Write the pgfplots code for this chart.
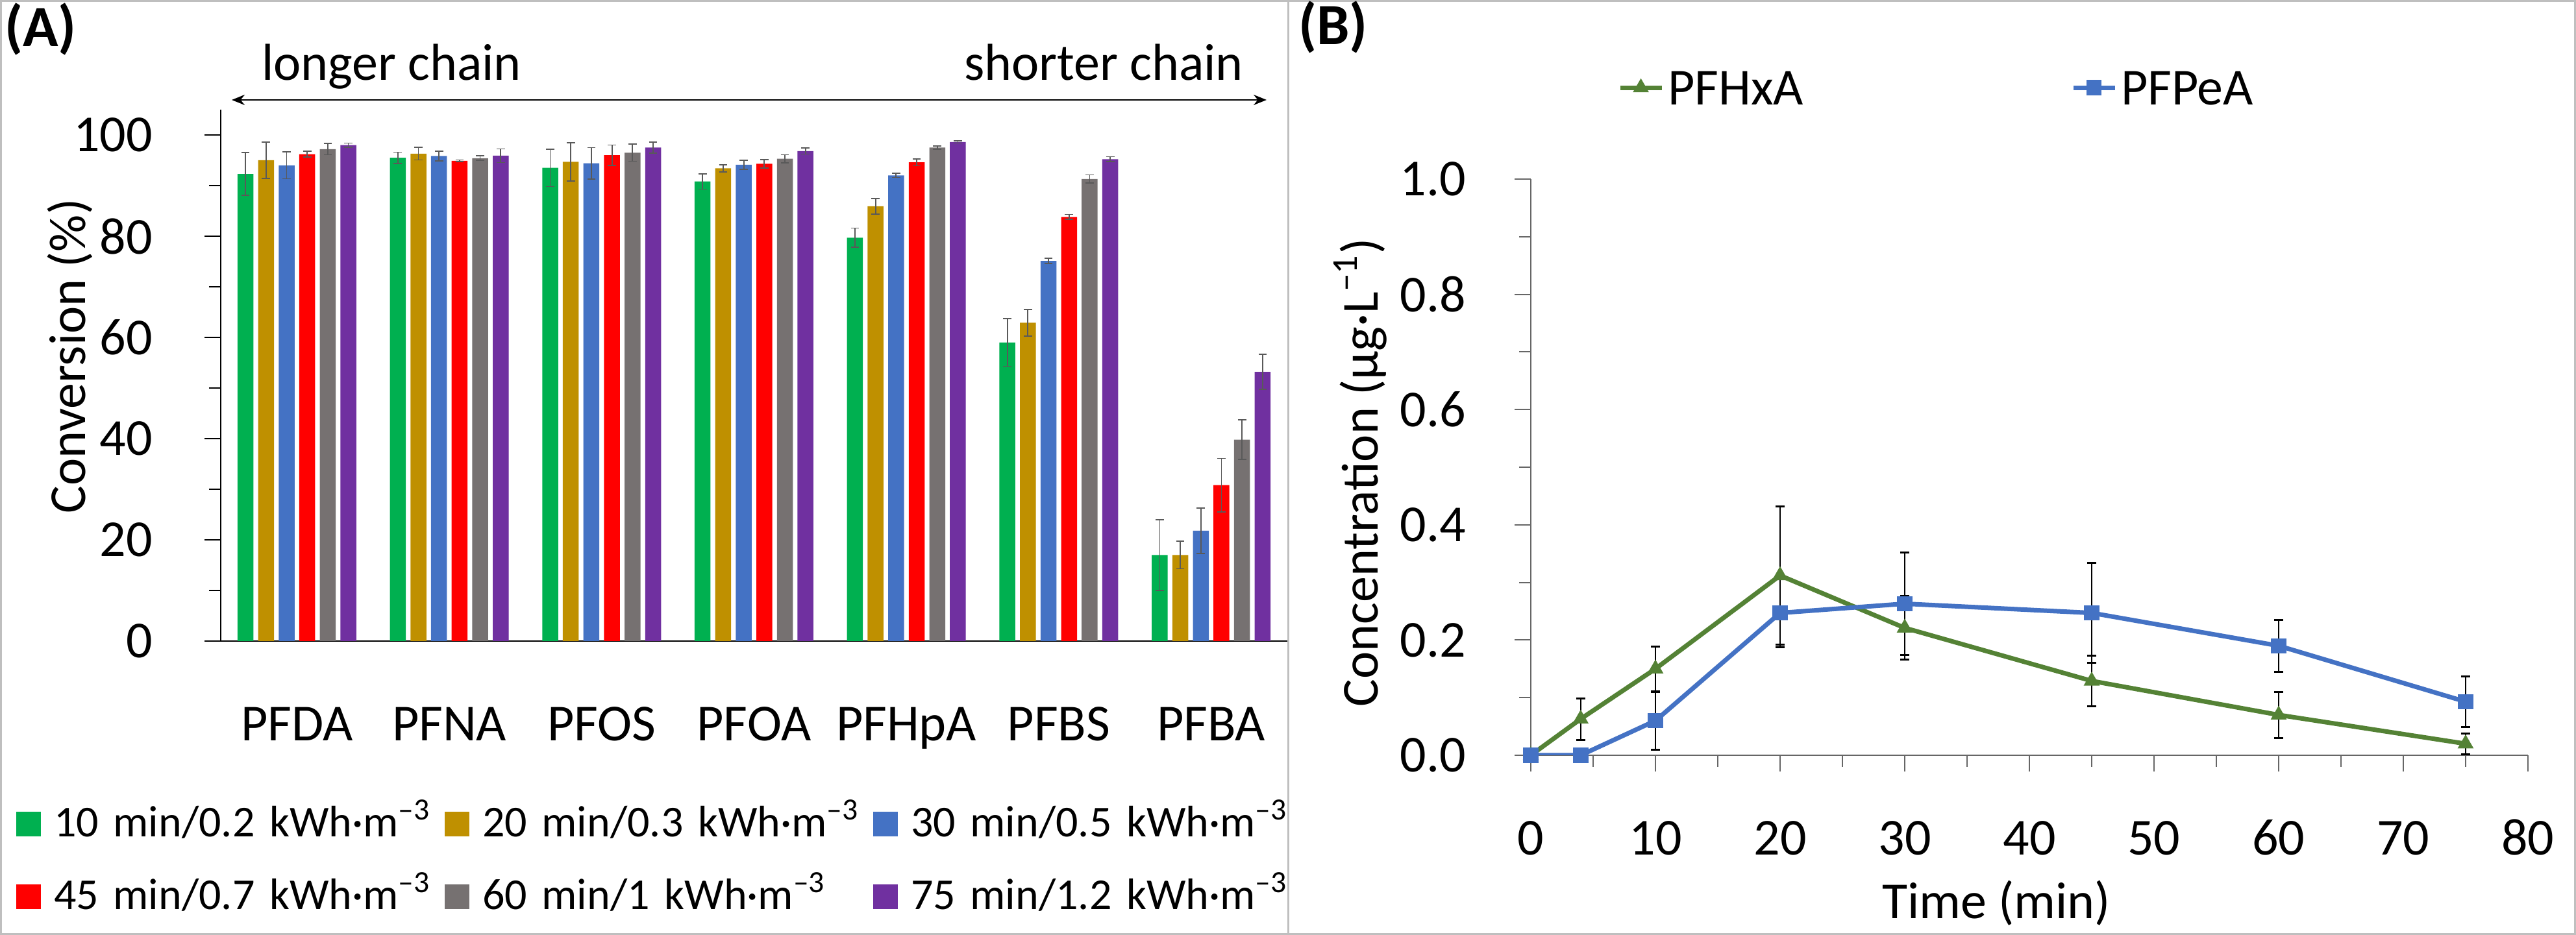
\documentclass[border=0pt]{standalone}
\usepackage{fontspec}
\setmainfont{Carlito}
\usepackage{pgfplots}
\pgfplotsset{compat=1.18}
\usepackage{pgfplotstable}
\usetikzlibrary{arrows.meta}
\definecolor{cGreen}{HTML}{00B050}
\definecolor{cGold}{HTML}{BF9000}
\definecolor{cBlue}{HTML}{4472C4}
\definecolor{cRed}{HTML}{FF0000}
\definecolor{cGray}{HTML}{767171}
\definecolor{cPurple}{HTML}{7030A0}
\definecolor{lGreen}{HTML}{548235}
\definecolor{errGray}{HTML}{595959}
\definecolor{frameGray}{HTML}{BFBFBF}

\pgfplotstableread{
x s1 e1 s2 e2 s3 e3 s4 e4 s5 e5 s6 e6
0 92.3 4.25 95.0 3.55 94.0 2.65 96.2 0.6 97.2 1.1 98.0 0.4
1 95.5 1.1 96.3 1.25 95.85 0.95 94.9 0.15 95.4 0.45 95.9 1.35
2 93.5 3.7 94.7 3.8 94.4 3.1 96.0 2.0 96.5 1.7 97.5 1.1
3 90.8 1.5 93.4 0.7 94.1 0.9 94.3 0.8 95.3 0.8 96.8 0.6
4 79.7 1.9 85.9 1.5 92.0 0.4 94.6 0.7 97.5 0.3 98.6 0.2
5 59.0 4.7 62.9 2.6 75.1 0.5 83.8 0.5 91.3 0.8 95.2 0.5
6 17.0 7.0 17.0 2.7 21.8 4.5 30.8 5.3 39.8 3.9 53.2 3.5
}\dataA

\pgfplotstableread{
x y e
0 0 0
4 0.063 0.036
10 0.150 0.039
20 0.312 0.120
30 0.221 0.055
45 0.129 0.044
60 0.070 0.040
75 0.020 0.018
}\PFHxA

\pgfplotstableread{
x y e
0 0 0
4 0 0
10 0.060 0.050
20 0.247 0.059
30 0.263 0.089
45 0.247 0.087
60 0.190 0.045
75 0.093 0.044
}\PFPeA

\begin{document}
\begin{tikzpicture}
\useasboundingbox (0,0) rectangle (793.6pt,288.2pt);
\draw[frameGray, line width=0.6pt] (0.3pt,0.3pt) rectangle (793.3pt,287.9pt);
\draw[frameGray, line width=0.6pt] (396.8pt,0pt) -- (396.8pt,288.2pt);

\node[anchor=base west, inner sep=0pt, font=\bfseries\fontsize{18}{22}\selectfont] at (1.2pt,273.8pt) {(A)};
\node[anchor=base west, inner sep=0pt, font=\bfseries\fontsize{18}{22}\selectfont] at (399.8pt,274.4pt) {(B)};
\draw[line width=0.4pt, {Stealth[length=4pt,width=3.2pt]}-{Stealth[length=4pt,width=3.2pt]}] (71.4pt,257.4pt) -- (390.2pt,257.4pt);
\node[anchor=base west, inner sep=0pt, font=\fontsize{16}{19}\selectfont] at (80.4pt,263.4pt) {longer chain};
\node[anchor=base east, inner sep=0pt, font=\fontsize{16}{19}\selectfont] at (383.2pt,263.4pt) {shorter chain};

\begin{axis}[
  at={(68pt,90.6pt)}, anchor=south west, scale only axis,
  width=328.6pt, height=163.8pt,
  xmin=-0.5, xmax=6.5, ymin=0, ymax=105,
  axis x line*=bottom, axis y line*=left,
  axis line style={-, line width=0.5pt, black},
  ybar=1.44pt, bar width=4.9pt,
  xtick={0,1,2,3,4,5,6},
  xticklabels={PFDA,PFNA,PFOS,PFOA,PFHpA,PFBS,PFBA},
  x tick style={draw=none},
  xticklabel style={anchor=base, inner sep=0pt, yshift=-25.8pt},
  ytick={0,20,40,60,80,100}, minor ytick={10,30,50,70,90},
  tick align=outside,
  major tick length=5pt, minor tick length=3.6pt,
  y tick style={black, line width=0.5pt},
  yticklabel style={anchor=east, inner sep=0pt, xshift=-15.8pt},
  /pgf/number format/assume math mode=true,
  every tick label/.append style={font=\fontsize{16}{19}\selectfont},
  ylabel={Conversion (\%)},
  every axis label/.append style={font=\fontsize{16}{19}\selectfont},
  ylabel style={at={(axis description cs:-0.1272,0.536)}, anchor=base},
  legend columns=3,
  legend style={at={(axis description cs:-0.1917,-0.3077)}, anchor=north west,
    draw=none, fill=none, inner sep=0pt, outer sep=0pt,
    font=\fontsize{13.6}{16}\selectfont,
    nodes={inner sep=0pt, text height=10pt, text depth=3.2pt},
    row sep=9.2pt, column sep=0pt,
    /tikz/every even column/.append style={text width=120.4pt}},
  legend image code/.code={\fill[#1] (0pt,-3.3pt) rectangle (7.6pt,4.3pt); \path (11.6pt,0pt);},
  error bars/error bar style={errGray, line width=0.35pt},
  error bars/error mark options={rotate=90, errGray, mark size=1.27pt, line width=0.35pt},
]
\addplot[fill=cGreen, draw=none, error bars/.cd, y dir=both, y explicit] table[x=x,y=s1,y error=e1]{\dataA};
\addlegendentry{10 min/0.2 kWh·m\textsuperscript{\textendash3}}
\addplot[fill=cGold, draw=none, error bars/.cd, y dir=both, y explicit] table[x=x,y=s2,y error=e2]{\dataA};
\addlegendentry{20 min/0.3 kWh·m\textsuperscript{\textendash3}}
\addplot[fill=cBlue, draw=none, error bars/.cd, y dir=both, y explicit] table[x=x,y=s3,y error=e3]{\dataA};
\addlegendentry{30 min/0.5 kWh·m\textsuperscript{\textendash3}}
\addplot[fill=cRed, draw=none, error bars/.cd, y dir=both, y explicit] table[x=x,y=s4,y error=e4]{\dataA};
\addlegendentry{45 min/0.7 kWh·m\textsuperscript{\textendash3}}
\addplot[fill=cGray, draw=none, error bars/.cd, y dir=both, y explicit] table[x=x,y=s5,y error=e5]{\dataA};
\addlegendentry{60 min/1 kWh·m\textsuperscript{\textendash3}}
\addplot[fill=cPurple, draw=none, error bars/.cd, y dir=both, y explicit] table[x=x,y=s6,y error=e6]{\dataA};
\addlegendentry{75 min/1.2 kWh·m\textsuperscript{\textendash3}}
\end{axis}

\begin{axis}[
  at={(471.6pt,55.4pt)}, anchor=south west, scale only axis,
  width=307.2pt, height=177.6pt,
  xmin=0, xmax=80, ymin=0, ymax=1,
  axis x line*=bottom, axis y line*=left,
  axis line style={-, line width=0.4pt, black!60},
  xtick={0,10,20,30,40,50,60,70,80}, minor xtick={5,15,25,35,45,55,65,75},
  ytick={0,0.2,0.4,0.6,0.8,1}, minor ytick={0.1,0.3,0.5,0.7,0.9},
  tick align=outside, major tick length=5pt, minor tick length=3.6pt,
  tick style={black!60, line width=0.4pt},
  /pgf/number format/assume math mode=true,
  every tick label/.append style={font=\fontsize{16}{19}\selectfont},
  yticklabel style={/pgf/number format/.cd, fixed, fixed zerofill, precision=1, /tikz/.cd, anchor=east, inner sep=0pt, xshift=-14.8pt},
  xticklabel style={anchor=base, inner sep=0pt, yshift=-25.8pt},
  every axis label/.append style={font=\fontsize{16}{19}\selectfont},
  xlabel={Time (min)},
  xlabel style={at={(axis description cs:0.467,0)}, anchor=base, yshift=-50.4pt},
  ylabel={Concentration (μg·L\textsuperscript{\textendash1})},
  ylabel style={at={(axis description cs:-0.1536,0.491)}, anchor=base},
  legend columns=2,
  legend style={at={(axis description cs:0.0873,1.152)}, anchor=west,
    draw=none, fill=none, inner sep=0pt, outer sep=0pt,
    font=\fontsize{16}{19}\selectfont,
    nodes={inner sep=0pt, text height=11pt, text depth=3pt},
    column sep=0pt,
    /tikz/every even column/.append style={text width=124.2pt}},
  legend image code/.code={\draw[#1, mark repeat=2, mark phase=2] plot coordinates {(0pt,1.2pt) (6.4pt,1.2pt) (12.8pt,1.2pt)}; \path (14pt,0pt);},
  error bars/error bar style={black, line width=0.5pt},
  error bars/error mark options={rotate=90, black, mark size=1.34pt, line width=0.6pt},
]
\addplot[lGreen, line width=1.4pt, mark=triangle*, mark size=2.55pt, mark options={solid, fill=lGreen, line width=0.3pt},
  error bars/.cd, y dir=both, y explicit] table[x=x,y=y,y error=e]{\PFHxA};
\addlegendentry{PFHxA}
\addplot[cBlue, line width=1.4pt, mark=square*, mark size=2.2pt, mark options={solid, fill=cBlue, line width=0.3pt},
  error bars/.cd, y dir=both, y explicit] table[x=x,y=y,y error=e]{\PFPeA};
\addlegendentry{PFPeA}
\end{axis}
\end{tikzpicture}
\end{document}
